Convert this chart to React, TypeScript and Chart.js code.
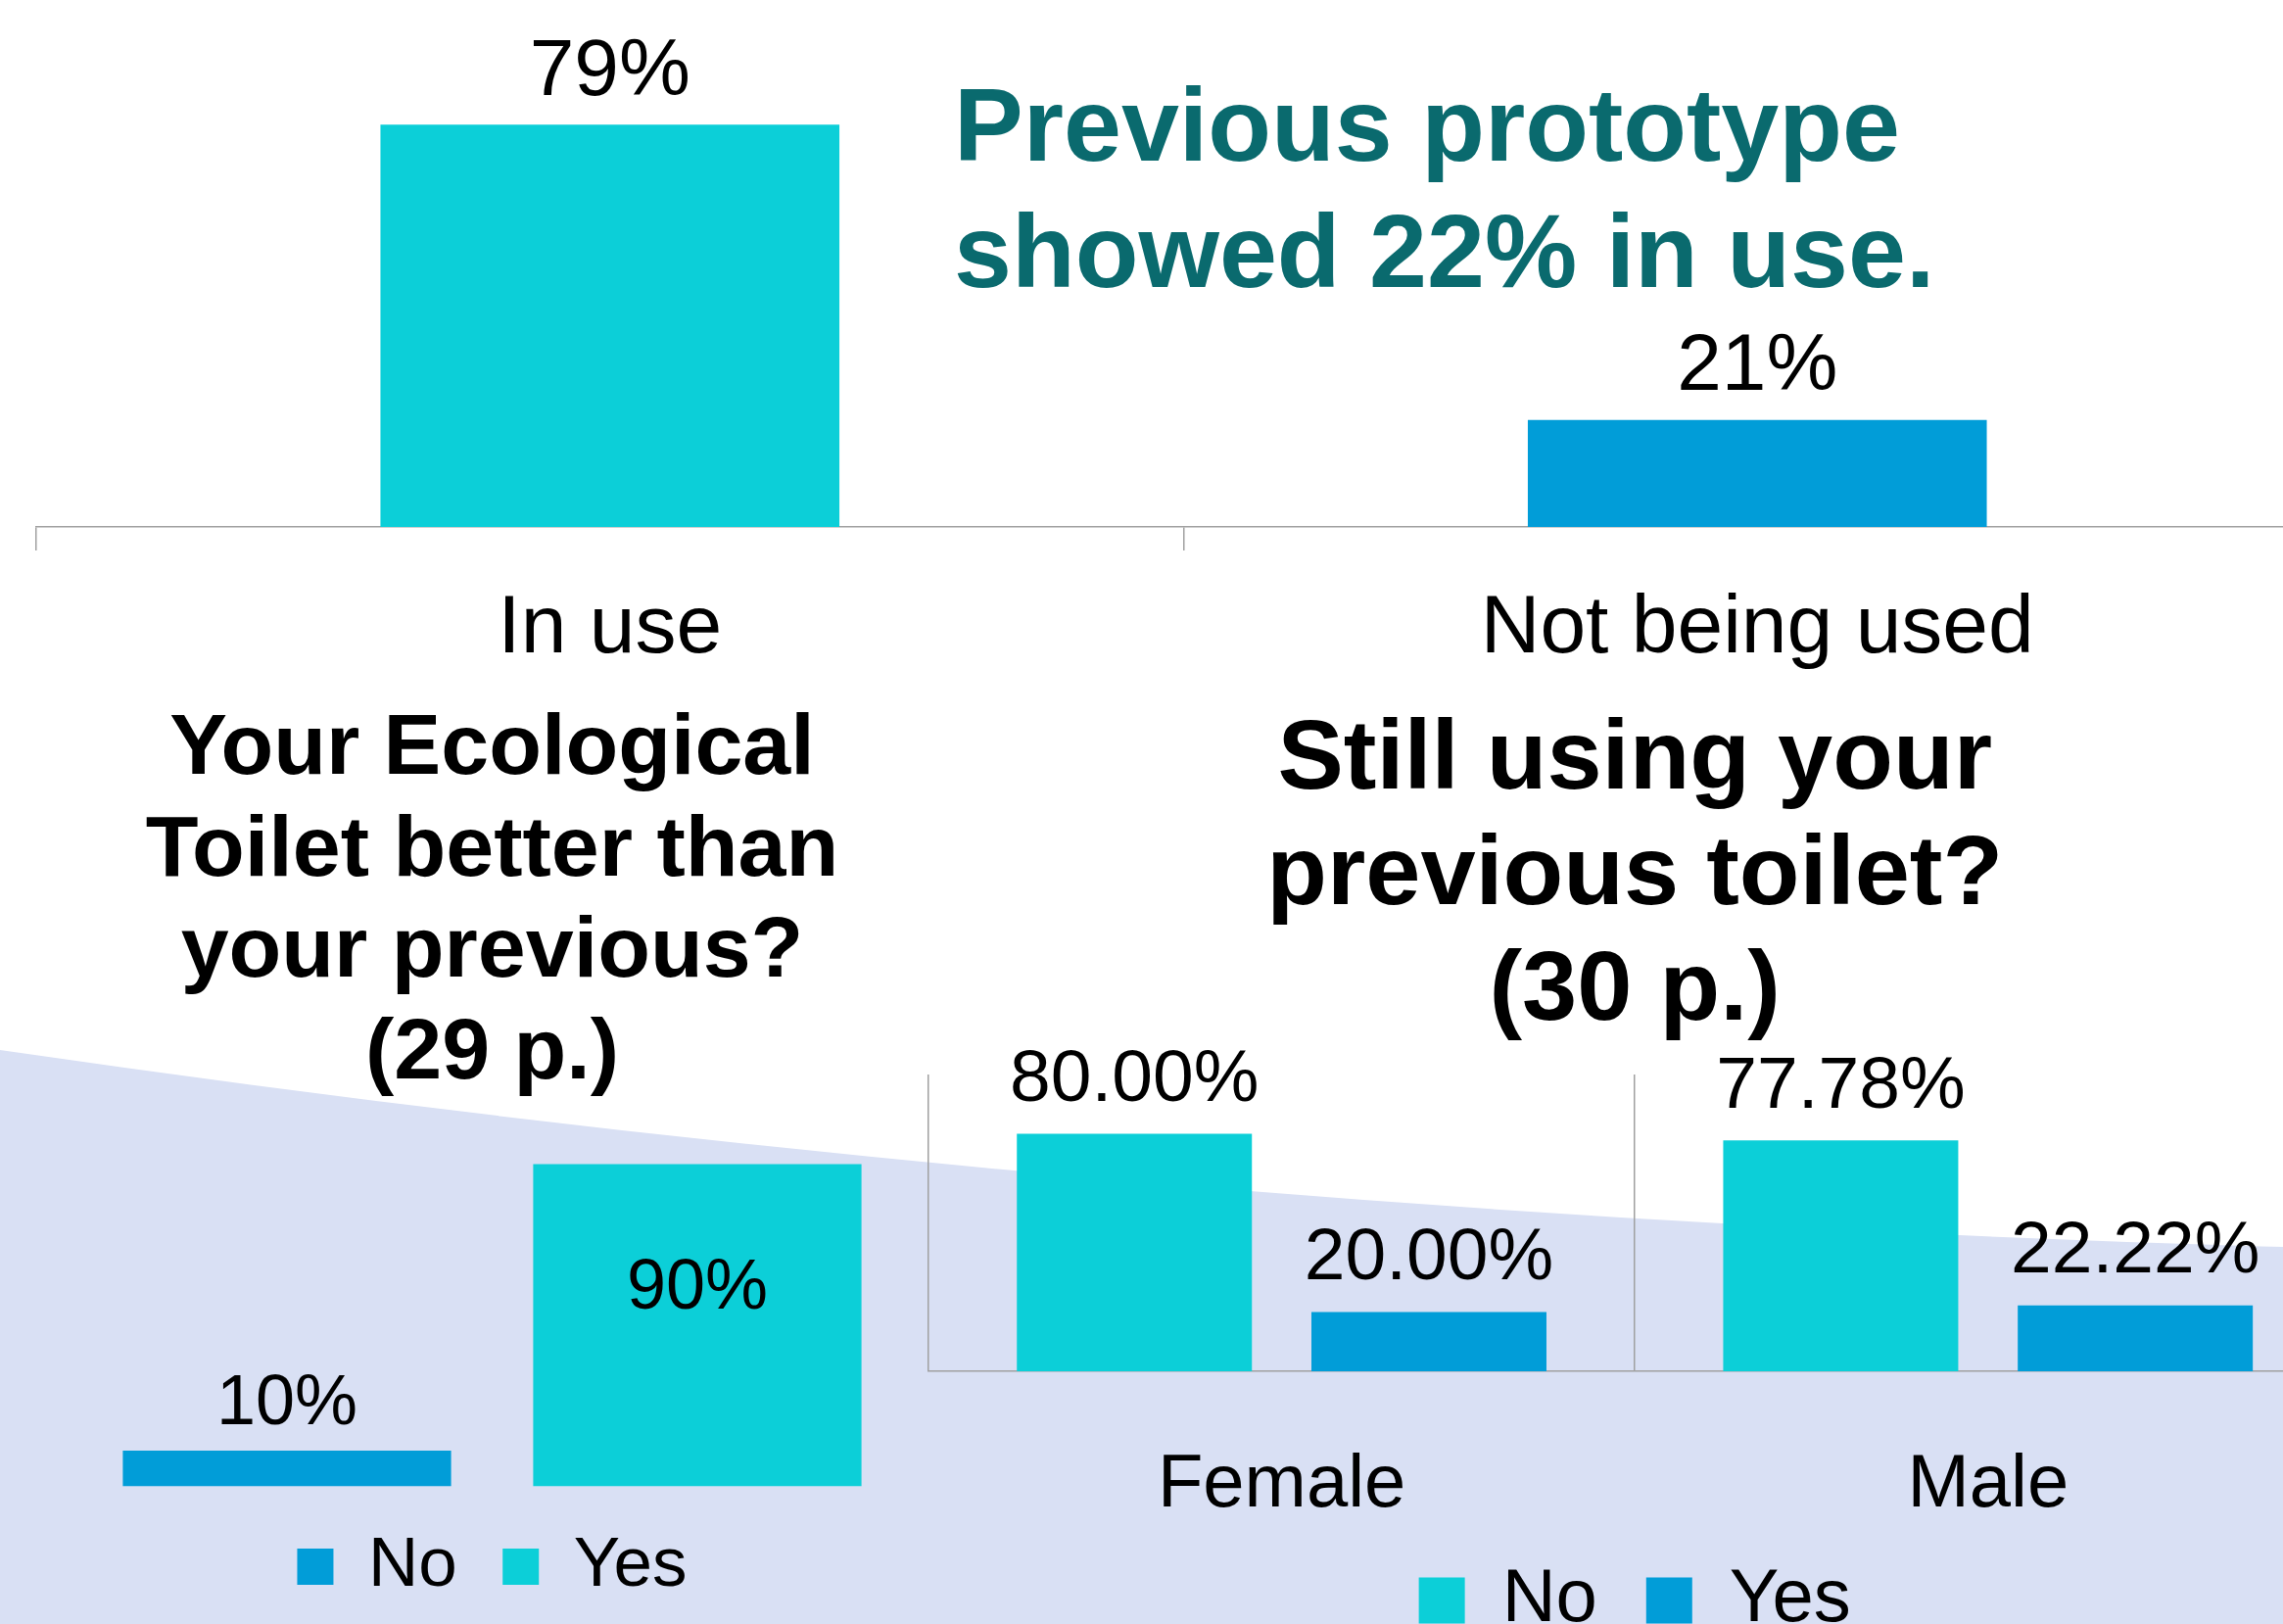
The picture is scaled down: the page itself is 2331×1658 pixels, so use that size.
import React, { useEffect, useRef } from 'react';
import { Chart, registerables } from 'chart.js';

Chart.register(...registerables);

// ---------- data ----------
const topCategories = ['In use', 'Not being used'];
const topValues = [79, 21];

const betterCategories = ['No', 'Yes'];
const betterValues = [10, 90];

const stillCategories = ['Female', 'Male'];
const stillSeries = ['No', 'Yes'];
const stillNo = [80.0, 77.78];
const stillYes = [20.0, 22.22];

const noteLines = ['Previous prototype', 'showed 22% in use.'];
const betterTitle = ['Your Ecological', 'Toilet better than', 'your previous?', '(29 p.)'];
const stillTitle = ['Still using your', 'previous toilet?', '(30 p.)'];

// ---------- styles ----------
const FONT = "'Liberation Sans', Arial, Helvetica, sans-serif";
const TURQ = '#0CCFD8';
const BLUE = '#019DD8';
const TEAL = '#0A6A6E';
const AXIS = '#A0A0A0';
const LAVENDER = '#D9E0F4';

const topColors = [TURQ, BLUE];
const betterColors = [BLUE, TURQ];
const stillColors = [TURQ, BLUE];

type LabelOpts = { size: number; offset: number; decimals: number; insideOffset?: number };

function makeLabelPlugin(o: LabelOpts) {
  return {
    id: 'valueLabels',
    afterDatasetsDraw(chart: any) {
      const ctx = chart.ctx;
      ctx.save();
      ctx.font = `${o.size}px ${FONT}`;
      ctx.fillStyle = '#000';
      ctx.textAlign = 'center';
      ctx.textBaseline = 'middle';
      chart.data.datasets.forEach((ds: any, di: number) => {
        const meta = chart.getDatasetMeta(di);
        meta.data.forEach((bar: any, i: number) => {
          const v = Number(ds.data[i]);
          const text = v.toFixed(o.decimals) + '%';
          let y = bar.y - o.offset;
          if (o.insideOffset !== undefined && y < chart.chartArea.top) {
            y = bar.y + o.insideOffset;
          }
          ctx.fillText(text, bar.x, y);
        });
      });
      ctx.restore();
    },
  };
}

function useChart(ref: React.RefObject<HTMLCanvasElement>, build: (c: HTMLCanvasElement) => Chart) {
  useEffect(() => {
    if (!ref.current) return;
    const chart = build(ref.current);
    return () => chart.destroy();
  }, []);
}

export default function App() {
  const topRef = useRef<HTMLCanvasElement>(null);
  const leftRef = useRef<HTMLCanvasElement>(null);
  const rightRef = useRef<HTMLCanvasElement>(null);

  useChart(topRef, (c) =>
    new Chart(c, {
      type: 'bar',
      data: {
        labels: topCategories,
        datasets: [
          {
            data: topValues,
            backgroundColor: topColors,
            barPercentage: 0.4,
            categoryPercentage: 1,
          },
        ],
      },
      options: {
        animation: false,
        responsive: false,
        devicePixelRatio: 1,
        layout: { padding: { left: 37, right: 20, top: 18, bottom: 0 } },
        plugins: {
          legend: { display: false },
          title: { display: false },
          tooltip: { enabled: false },
        },
        scales: {
          x: {
            grid: {
              display: true,
              offset: true,
              drawOnChartArea: false,
              drawTicks: true,
              tickLength: 24,
              color: AXIS,
              lineWidth: 1.5,
            },
            border: { display: true, color: AXIS, width: 1.5 },
            ticks: {
              font: { family: FONT, size: 84 },
              color: '#000',
              padding: 30,
              maxRotation: 0,
              autoSkip: false,
            },
            afterFit: (s: any) => {
              s.height = 180;
            },
          },
          y: { display: false, min: 0, max: 100 },
        },
      } as any,
      plugins: [makeLabelPlugin({ size: 82, offset: 53, decimals: 0 })],
    })
  );

  useChart(leftRef, (c) =>
    new Chart(c, {
      type: 'bar',
      data: {
        labels: betterCategories,
        datasets: [
          {
            data: betterValues,
            backgroundColor: betterColors,
            barPercentage: 0.8,
            categoryPercentage: 1,
          },
        ],
      },
      options: {
        animation: false,
        responsive: false,
        devicePixelRatio: 1,
        layout: { padding: { left: 83.5, right: 82.5, top: 0, bottom: 13 } },
        plugins: {
          tooltip: { enabled: false },
          title: {
            display: true,
            text: betterTitle,
            color: '#000',
            font: { family: FONT, size: 88, weight: 'bold', lineHeight: 103.5 / 88 },
            padding: { top: 64, bottom: 24 },
          },
          legend: {
            display: true,
            position: 'bottom',
            labels: {
              color: '#000',
              font: { family: FONT, size: 71 },
              boxWidth: 37,
              boxHeight: 37,
              padding: 46.5,
              generateLabels: () =>
                betterCategories.map((cat, i) => ({
                  text: cat,
                  fillStyle: betterColors[i],
                  strokeStyle: betterColors[i],
                  lineWidth: 0,
                  hidden: false,
                  index: i,
                  datasetIndex: 0,
                })),
            },
          },
        },
        scales: {
          x: { display: false },
          y: { display: false, min: 0, max: 100 },
        },
      } as any,
      plugins: [makeLabelPlugin({ size: 72, offset: 47, decimals: 0, insideOffset: 128 })],
    })
  );

  useChart(rightRef, (c) =>
    new Chart(c, {
      type: 'bar',
      data: {
        labels: stillCategories,
        datasets: [
          {
            label: stillSeries[0],
            data: stillNo,
            backgroundColor: stillColors[0],
            barPercentage: 0.798,
            categoryPercentage: 0.834,
          },
          {
            label: stillSeries[1],
            data: stillYes,
            backgroundColor: stillColors[1],
            barPercentage: 0.798,
            categoryPercentage: 0.834,
          },
        ],
      },
      options: {
        animation: false,
        responsive: false,
        devicePixelRatio: 1,
        layout: { padding: { left: 4, right: 4.6, top: 0, bottom: 18 } },
        plugins: {
          tooltip: { enabled: false },
          title: {
            display: true,
            text: stillTitle,
            color: '#000',
            font: { family: FONT, size: 101, weight: 'bold', lineHeight: 118 / 101 },
            padding: { top: 68, bottom: 25 },
          },
          legend: {
            display: true,
            position: 'bottom',
            labels: {
              color: '#000',
              font: { family: FONT, size: 76 },
              boxWidth: 47,
              boxHeight: 47,
              padding: 50,
            },
          },
        },
        scales: {
          x: {
            grid: {
              display: true,
              offset: true,
              drawOnChartArea: true,
              drawTicks: false,
              color: AXIS,
              lineWidth: 1.5,
            },
            border: { display: true, color: AXIS, width: 1.5 },
            ticks: {
              font: { family: FONT, size: 76 },
              color: '#000',
              padding: 71,
              maxRotation: 0,
              autoSkip: false,
            },
            afterFit: (s: any) => {
              s.height = 146;
            },
          },
          y: { display: false, min: 0, max: 100 },
        },
      } as any,
      plugins: [makeLabelPlugin({ size: 75, offset: 54, decimals: 2 })],
    })
  );

  return (
    <div
      style={{
        position: 'absolute',
        left: 0,
        top: 0,
        width: 2331,
        height: 1658,
        overflow: 'hidden',
        background: '#ffffff',
      }}
    >
      <svg width={2331} height={1658} style={{ position: 'absolute', left: 0, top: 0 }}>
        <path d="M0,1072 Q1166,1241 2331,1273 L2331,1658 L0,1658 Z" fill={LAVENDER} />
      </svg>
      <canvas
        ref={topRef}
        width={2400}
        height={718}
        style={{ position: 'absolute', left: 0, top: 0, width: 2400, height: 718 }}
      />
      <canvas
        ref={leftRef}
        width={1004}
        height={1008}
        style={{ position: 'absolute', left: 0, top: 650, width: 1004, height: 1008 }}
      />
      <canvas
        ref={rightRef}
        width={1451}
        height={1050}
        style={{ position: 'absolute', left: 944, top: 650, width: 1451, height: 1050 }}
      />
      <div
        style={{
          position: 'absolute',
          left: 974,
          top: 63,
          fontFamily: FONT,
          fontWeight: 'bold',
          fontSize: 106,
          lineHeight: '129px',
          color: TEAL,
          whiteSpace: 'pre',
        }}
      >
        {noteLines.map((l) => (
          <div key={l}>{l}</div>
        ))}
      </div>
    </div>
  );
}
